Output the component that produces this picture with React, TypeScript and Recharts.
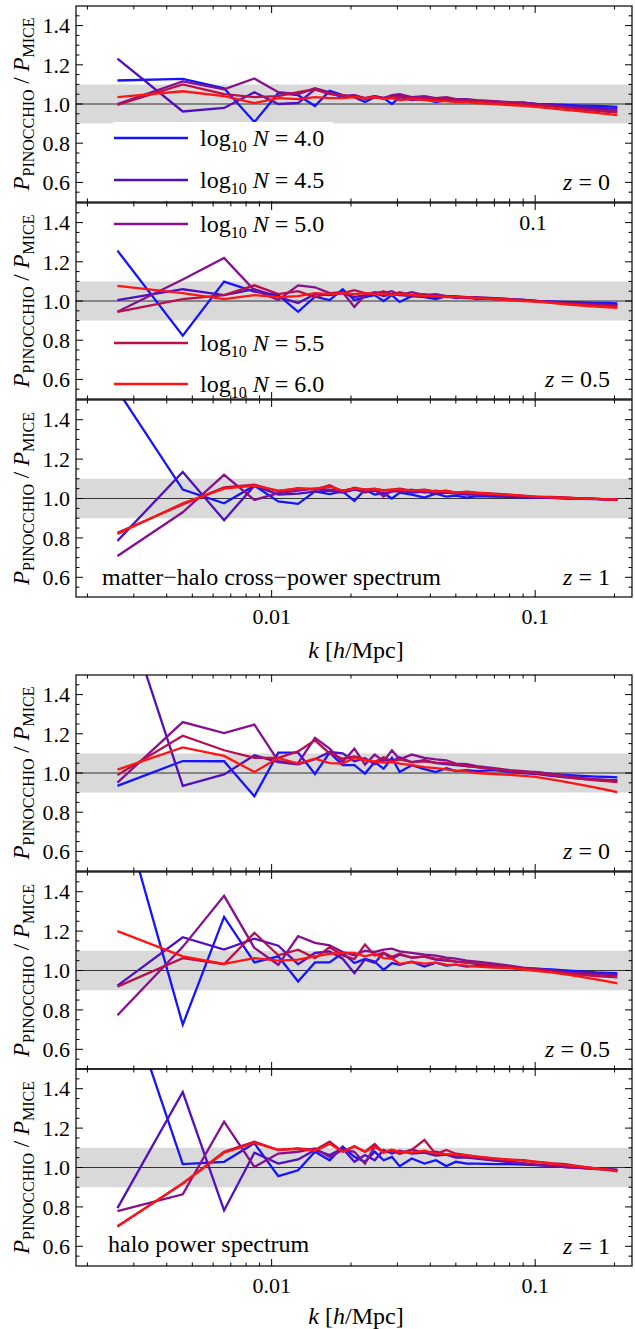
import React from 'react'
import { LineChart, Line, XAxis, YAxis, ReferenceArea, ReferenceLine } from 'recharts'

// k bins [h/Mpc]
const kBins = [
  0.0026, 0.0046, 0.0066, 0.0086, 0.0106, 0.0126, 0.0146, 0.0166, 0.0186, 0.0206,
  0.0226, 0.0246, 0.0266, 0.0286, 0.0306, 0.034, 0.038, 0.042, 0.046, 0.05,
  0.055, 0.06, 0.07, 0.08, 0.09, 0.1, 0.115, 0.13, 0.15, 0.17,
  0.19, 0.205,
]

// matter-halo cross-power, z = 0
const cz0_40 = [1.12, 1.128, 1.08, 0.908, 1.056, 1.045, 0.99, 1.067, 1.045, 1.035, 1.01, 1.035, 1.03, 1.0, 1.035, 1.02, 1.025, 1.01, 1.02, 1.015, 1.02, 1.01, 1.015, 1.005, 1.008, 1.0, 0.998, 0.995, 0.992, 0.99, 0.988, 0.985]
const cz0_45 = [1.232, 0.962, 0.98, 1.06, 1.0, 1.005, 1.075, 1.055, 1.035, 1.045, 1.03, 1.04, 1.03, 1.04, 1.045, 1.03, 1.035, 1.02, 1.03, 1.02, 1.02, 1.015, 1.01, 1.005, 1.005, 1.0, 0.995, 0.99, 0.985, 0.98, 0.978, 0.975]
const cz0_50 = [1.0, 1.115, 1.075, 1.13, 1.06, 1.05, 1.08, 1.06, 1.04, 1.045, 1.025, 1.04, 1.03, 1.045, 1.05, 1.035, 1.04, 1.03, 1.035, 1.025, 1.025, 1.02, 1.015, 1.01, 1.005, 1.0, 0.992, 0.985, 0.978, 0.972, 0.968, 0.965]
const cz0_55 = [0.995, 1.1, 1.05, 1.035, 1.04, 1.06, 1.075, 1.05, 1.045, 1.035, 1.03, 1.035, 1.03, 1.035, 1.035, 1.03, 1.03, 1.025, 1.03, 1.02, 1.02, 1.015, 1.012, 1.005, 1.0, 0.995, 0.988, 0.98, 0.972, 0.965, 0.96, 0.957]
const cz0_60 = [1.035, 1.065, 1.04, 1.005, 1.03, 1.025, 1.035, 1.03, 1.03, 1.035, 1.03, 1.035, 1.025, 1.03, 1.02, 1.025, 1.02, 1.015, 1.015, 1.01, 1.01, 1.005, 1.0, 0.995, 0.99, 0.985, 0.978, 0.97, 0.962, 0.955, 0.948, 0.943]

// matter-halo cross-power, z = 0.5
const cz05_40 = [1.257, 0.823, 1.099, 1.048, 1.03, 0.945, 1.022, 1.005, 1.06, 1.005, 1.02, 1.03, 1.0, 1.03, 0.995, 1.025, 1.02, 1.01, 1.025, 1.015, 1.02, 1.01, 1.015, 1.01, 1.005, 1.0, 0.998, 0.995, 0.993, 0.99, 0.99, 0.988]
const cz05_45 = [1.005, 1.06, 1.03, 1.06, 1.02, 0.99, 1.035, 1.03, 1.04, 1.02, 1.03, 1.04, 1.025, 1.035, 1.03, 1.025, 1.03, 1.02, 1.025, 1.02, 1.015, 1.015, 1.01, 1.005, 1.005, 1.0, 0.995, 0.99, 0.988, 0.985, 0.982, 0.98]
const cz05_50 = [0.945, 1.11, 1.22, 1.055, 1.005, 1.08, 1.07, 1.04, 1.045, 0.97, 1.03, 1.045, 1.04, 1.05, 1.03, 1.045, 1.03, 1.035, 1.025, 1.025, 1.02, 1.02, 1.015, 1.01, 1.005, 1.0, 0.995, 0.99, 0.985, 0.982, 0.98, 0.978]
const cz05_55 = [0.945, 1.01, 1.03, 1.08, 1.035, 1.05, 1.02, 1.04, 1.04, 1.055, 1.04, 1.035, 1.05, 1.03, 1.045, 1.03, 1.035, 1.025, 1.025, 1.02, 1.02, 1.015, 1.01, 1.008, 1.003, 1.0, 0.993, 0.988, 0.982, 0.978, 0.975, 0.972]
const cz05_60 = [1.077, 1.04, 1.01, 1.03, 1.02, 1.025, 1.04, 1.035, 1.04, 1.035, 1.04, 1.035, 1.035, 1.03, 1.035, 1.03, 1.025, 1.025, 1.02, 1.02, 1.018, 1.015, 1.01, 1.005, 1.0, 0.997, 0.99, 0.983, 0.977, 0.972, 0.968, 0.965]

// matter-halo cross-power, z = 1
const cz1_40 = [1.55, 1.045, 0.976, 1.065, 0.985, 0.973, 1.036, 1.022, 1.036, 0.988, 1.045, 1.02, 1.027, 1.0, 1.03, 1.02, 1.005, 1.025, 1.01, 1.015, 1.005, 1.012, 1.01, 1.008, 1.005, 1.005, 1.003, 1.0, 0.998, 0.997, 0.995, 0.993]
const cz1_45 = [0.785, 1.135, 0.89, 1.065, 1.02, 1.025, 1.035, 1.04, 1.03, 1.045, 1.035, 1.04, 1.025, 1.035, 1.04, 1.03, 1.035, 1.025, 1.03, 1.025, 1.02, 1.02, 1.015, 1.012, 1.01, 1.005, 1.005, 1.002, 1.0, 0.998, 0.996, 0.995]
const cz1_50 = [0.708, 0.93, 1.12, 0.993, 1.027, 1.04, 1.05, 1.045, 1.04, 1.05, 1.03, 1.045, 1.01, 1.04, 1.035, 1.045, 1.03, 1.04, 1.03, 1.03, 1.025, 1.02, 1.02, 1.015, 1.01, 1.007, 1.005, 1.003, 1.0, 0.998, 0.996, 0.995]
const cz1_55 = [0.826, 0.97, 1.056, 1.07, 1.036, 1.053, 1.045, 1.067, 1.035, 1.055, 1.045, 1.05, 1.04, 1.045, 1.05, 1.04, 1.045, 1.035, 1.04, 1.03, 1.035, 1.03, 1.025, 1.02, 1.015, 1.01, 1.008, 1.005, 1.0, 0.998, 0.996, 0.994]
const cz1_60 = [0.82, 0.975, 1.05, 1.065, 1.04, 1.05, 1.05, 1.06, 1.04, 1.05, 1.045, 1.048, 1.042, 1.045, 1.045, 1.04, 1.042, 1.035, 1.038, 1.03, 1.032, 1.028, 1.022, 1.018, 1.013, 1.01, 1.006, 1.003, 1.0, 0.998, 0.996, 0.994]

// halo power, z = 0
const hz0_40 = [0.934, 1.061, 1.06, 0.881, 1.104, 1.104, 0.995, 1.104, 1.04, 1.04, 0.997, 1.056, 1.022, 1.077, 1.005, 1.04, 1.02, 1.005, 1.025, 1.01, 1.015, 1.01, 1.015, 1.005, 1.0, 1.005, 0.995, 0.99, 0.985, 0.982, 0.98, 0.978]
const hz0_45 = [1.95, 0.934, 0.993, 1.09, 1.056, 1.044, 1.07, 1.107, 1.1, 1.06, 1.075, 1.045, 1.07, 1.06, 1.08, 1.055, 1.065, 1.05, 1.045, 1.04, 1.035, 1.03, 1.02, 1.01, 1.0, 0.995, 0.985, 0.978, 0.97, 0.965, 0.962, 0.96]
const hz0_50 = [0.951, 1.26, 1.204, 1.247, 1.06, 1.05, 1.179, 1.124, 1.056, 1.124, 1.043, 1.094, 1.06, 1.116, 1.07, 1.094, 1.077, 1.07, 1.065, 1.048, 1.045, 1.035, 1.025, 1.015, 1.01, 1.005, 0.995, 0.985, 0.975, 0.968, 0.965, 0.963]
const hz0_55 = [0.99, 1.19, 1.116, 1.077, 1.077, 1.11, 1.167, 1.1, 1.073, 1.085, 1.07, 1.056, 1.08, 1.06, 1.07, 1.056, 1.06, 1.053, 1.05, 1.045, 1.035, 1.03, 1.02, 1.01, 1.005, 1.0, 0.99, 0.98, 0.97, 0.963, 0.958, 0.954]
const hz0_60 = [1.017, 1.131, 1.087, 1.005, 1.077, 1.048, 1.073, 1.05, 1.048, 1.077, 1.065, 1.06, 1.053, 1.056, 1.048, 1.04, 1.03, 1.025, 1.019, 1.012, 1.008, 1.0, 0.995, 0.99, 0.985, 0.98, 0.968, 0.955, 0.94, 0.925, 0.912, 0.903]

// halo power, z = 0.5
const hz05_40 = [1.9, 0.725, 1.272, 1.041, 1.072, 0.944, 1.041, 1.041, 1.089, 1.038, 1.058, 1.046, 1.003, 1.038, 1.029, 1.045, 1.02, 1.04, 1.025, 1.03, 1.02, 1.025, 1.02, 1.015, 1.012, 1.01, 1.005, 1.0, 0.995, 0.99, 0.988, 0.986]
const hz05_45 = [0.923, 1.169, 1.106, 1.162, 1.126, 1.032, 1.089, 1.097, 1.06, 0.986, 1.055, 1.038, 1.089, 1.06, 1.08, 1.065, 1.07, 1.055, 1.05, 1.045, 1.04, 1.035, 1.025, 1.02, 1.01, 1.005, 0.998, 0.993, 0.988, 0.985, 0.982, 0.98]
const hz05_50 = [0.773, 1.12, 1.379, 1.115, 1.029, 1.174, 1.14, 1.128, 1.094, 1.077, 1.1, 1.094, 1.106, 1.111, 1.097, 1.09, 1.08, 1.075, 1.065, 1.06, 1.05, 1.045, 1.035, 1.025, 1.015, 1.01, 1.0, 0.99, 0.985, 0.98, 0.977, 0.975]
const hz05_55 = [0.918, 1.063, 1.032, 1.191, 1.077, 1.106, 1.063, 1.118, 1.077, 1.058, 1.132, 1.077, 1.09, 1.07, 1.085, 1.065, 1.07, 1.06, 1.055, 1.045, 1.04, 1.035, 1.025, 1.02, 1.01, 1.005, 0.995, 0.985, 0.978, 0.972, 0.968, 0.965]
const hz05_60 = [1.2, 1.072, 1.034, 1.063, 1.05, 1.055, 1.072, 1.085, 1.089, 1.089, 1.072, 1.084, 1.063, 1.06, 1.034, 1.043, 1.035, 1.04, 1.03, 1.029, 1.025, 1.02, 1.015, 1.012, 1.005, 0.998, 0.99, 0.98, 0.968, 0.955, 0.943, 0.935]

// halo power, z = 1
const hz1_40 = [2.0, 1.017, 1.029, 1.123, 0.956, 0.986, 1.08, 1.037, 1.106, 1.054, 1.029, 1.08, 1.037, 1.054, 1.007, 1.046, 1.02, 1.037, 1.007, 1.029, 1.02, 1.02, 1.017, 1.017, 1.015, 1.012, 1.008, 1.003, 1.0, 0.995, 0.99, 0.986]
const hz1_45 = [0.794, 1.383, 0.782, 1.075, 1.02, 1.041, 1.089, 1.063, 1.097, 1.029, 1.063, 1.037, 1.089, 1.071, 1.085, 1.07, 1.075, 1.06, 1.065, 1.05, 1.05, 1.045, 1.035, 1.028, 1.02, 1.015, 1.008, 1.002, 0.998, 0.993, 0.99, 0.988]
const hz1_50 = [0.779, 0.864, 1.233, 1.003, 1.071, 1.08, 1.097, 1.054, 1.089, 1.08, 1.02, 1.106, 1.08, 1.085, 1.07, 1.09, 1.075, 1.08, 1.065, 1.06, 1.055, 1.048, 1.04, 1.03, 1.022, 1.015, 1.008, 1.002, 0.997, 0.992, 0.99, 0.988]
const hz1_55 = [0.702, 0.918, 1.08, 1.131, 1.089, 1.097, 1.089, 1.131, 1.08, 1.109, 1.08, 1.119, 1.075, 1.089, 1.07, 1.089, 1.14, 1.068, 1.089, 1.07, 1.063, 1.055, 1.046, 1.04, 1.037, 1.03, 1.022, 1.017, 1.005, 0.995, 0.988, 0.981]
const hz1_60 = [0.7, 0.92, 1.075, 1.125, 1.09, 1.095, 1.085, 1.12, 1.08, 1.105, 1.08, 1.105, 1.078, 1.09, 1.08, 1.075, 1.085, 1.07, 1.068, 1.065, 1.06, 1.055, 1.045, 1.04, 1.035, 1.028, 1.02, 1.012, 1.003, 0.995, 0.988, 0.982]

const seriesKeys = ['n40', 'n45', 'n50', 'n55', 'n60']
const seriesLabels = ['4.0', '4.5', '5.0', '5.5', '6.0']
const seriesColors = ['#1414ff', '#5010c0', '#86108e', '#b8104e', '#ff1414']

const xTicks = [
  0.002, 0.003, 0.004, 0.005, 0.006, 0.007, 0.008, 0.009,
  0.01, 0.02, 0.03, 0.04, 0.05, 0.06, 0.07, 0.08, 0.09,
  0.1, 0.2,
]
const xTickLabels = ['0.01', '0.1']
const yTicks = [
  0.55, 0.6, 0.65, 0.7, 0.75, 0.8, 0.85, 0.9, 0.95, 1.0,
  1.05, 1.1, 1.15, 1.2, 1.25, 1.3, 1.35, 1.4, 1.45,
]
const yTickLabels = [0.6, 0.8, 1.0, 1.2, 1.4]

const FONT = '"Liberation Serif", "DejaVu Serif", "Times New Roman", serif'
const W = 635
const PLOT_L = 76
const PLOT_R = 632
const K_MIN = 0.00181
const K_MAX = 0.233

const panels = [
  { top: 6, h: 196, series: [cz0_40, cz0_45, cz0_50, cz0_55, cz0_60], z: '0', showX: false },
  { top: 203, h: 196, series: [cz05_40, cz05_45, cz05_50, cz05_55, cz05_60], z: '0.5', showX: false },
  { top: 400, h: 197, series: [cz1_40, cz1_45, cz1_50, cz1_55, cz1_60], z: '1', showX: true },
  { top: 675, h: 196, series: [hz0_40, hz0_45, hz0_50, hz0_55, hz0_60], z: '0', showX: false },
  { top: 872, h: 197, series: [hz05_40, hz05_45, hz05_50, hz05_55, hz05_60], z: '0.5', showX: false },
  { top: 1069, h: 197, series: [hz1_40, hz1_45, hz1_50, hz1_55, hz1_60], z: '1', showX: true },
]

const legendY = [138, 180, 224, 343, 384]

function XTick(props: any) {
  const { x, y, payload, plotH, showX } = props
  const v = payload.value
  const label = xTickLabels.find((t) => Math.abs(Number(t) - v) < 1e-9)
  const len = label ? 7 : 3.5
  const top = y - plotH
  return (
    <g>
      <line x1={x} x2={x} y1={y} y2={y - len} stroke="#000" strokeWidth={1} />
      <line x1={x} x2={x} y1={top} y2={top + len} stroke="#000" strokeWidth={1} />
      {showX && label && (
        <text x={x} y={y + 27} textAnchor="middle" fontSize={22} fontFamily={FONT} fill="#000">
          {label}
        </text>
      )}
    </g>
  )
}

function YTick(props: any) {
  const { x, y, payload } = props
  const v = payload.value
  const major = yTickLabels.some((t) => Math.abs(t - v) < 1e-9)
  const len = major ? 7 : 3.5
  return (
    <g>
      <line x1={x} x2={x + len} y1={y} y2={y} stroke="#000" strokeWidth={1} />
      <line x1={PLOT_R - len} x2={PLOT_R} y1={y} y2={y} stroke="#000" strokeWidth={1} />
      {major && (
        <text x={x - 6} y={y} dy="0.35em" textAnchor="end" fontSize={22} fontFamily={FONT} fill="#000">
          {v.toFixed(1)}
        </text>
      )}
    </g>
  )
}

function Panel({ top, h, series, showX }: { top: number; h: number; series: number[][]; showX: boolean }) {
  const rows = kBins.map((k, i) => {
    const row: Record<string, number> = { k }
    seriesKeys.forEach((key, j) => {
      row[key] = series[j][i]
    })
    return row
  })
  const xh = showX ? 40 : 2
  return (
    <div style={{ position: 'absolute', left: 0, top: top - 2 }}>
      <LineChart width={W} height={h + 2 + xh} data={rows} margin={{ top: 2, right: W - PLOT_R, bottom: 0, left: 0 }}>
        <XAxis
          dataKey="k"
          type="number"
          scale="log"
          domain={[K_MIN, K_MAX]}
          allowDataOverflow
          ticks={xTicks}
          interval={0}
          tickSize={0}
          tickMargin={0}
          tickLine={false}
          axisLine={false}
          height={xh}
          tick={(p: any) => <XTick {...p} plotH={h} showX={showX} />}
        />
        <YAxis
          type="number"
          domain={[0.5, 1.5]}
          allowDataOverflow
          ticks={yTicks}
          interval={0}
          tickSize={0}
          tickMargin={0}
          tickLine={false}
          axisLine={false}
          width={PLOT_L}
          tick={(p: any) => <YTick {...p} />}
        />
        <ReferenceArea y1={0.9} y2={1.1} fill="#d9d9d9" fillOpacity={1} stroke="none" />
        <ReferenceLine y={1} stroke="#333" strokeWidth={1.2} />
        {seriesKeys.map((key, j) => (
          <Line
            key={key}
            type="linear"
            dataKey={key}
            stroke={seriesColors[j]}
            strokeWidth={2.3}
            dot={false}
            isAnimationActive={false}
          />
        ))}
      </LineChart>
    </div>
  )
}

function YLabel({ cy }: { cy: number }) {
  return (
    <text transform={`translate(29, ${cy}) rotate(-90)`} textAnchor="middle" fontSize={23} fontFamily={FONT} fill="#000">
      <tspan fontStyle="italic">P</tspan>
      <tspan fontSize={16} dy={5}>PINOCCHIO</tspan>
      <tspan dy={-5}>{' / '}</tspan>
      <tspan fontStyle="italic">P</tspan>
      <tspan fontSize={16} dy={5}>MICE</tspan>
    </text>
  )
}

function XTitle({ y }: { y: number }) {
  return (
    <text x={356} y={y} textAnchor="middle" fontSize={24} fontFamily={FONT} fill="#000">
      <tspan fontStyle="italic">k</tspan>
      <tspan>{' ['}</tspan>
      <tspan fontStyle="italic">h</tspan>
      <tspan>/Mpc]</tspan>
    </text>
  )
}

export default function App() {
  return (
    <div style={{ position: 'absolute', left: 0, top: 0, width: W, height: 1329, background: '#fff', overflow: 'hidden' }}>
      {panels.map((p, i) => (
        <Panel key={i} top={p.top} h={p.h} series={p.series} showX={p.showX} />
      ))}
      <svg width={W} height={1329} style={{ position: 'absolute', left: 0, top: 0, pointerEvents: 'none' }}>
        {/* legend background in the top panel */}
        <rect x={113} y={122} width={220} height={79} fill="#fff" />
        {panels.map((p, i) => (
          <rect key={'f' + i} x={PLOT_L} y={p.top} width={PLOT_R - PLOT_L} height={p.h} fill="none" stroke="#000" strokeWidth={1.2} />
        ))}
        {panels.map((p, i) => (
          <YLabel key={'y' + i} cy={p.top + p.h / 2} />
        ))}
        {panels.map((p, i) => (
          <text key={'z' + i} x={610} y={p.top + p.h - 12} textAnchor="end" fontSize={24} fontFamily={FONT} fill="#000">
            <tspan fontStyle="italic">z</tspan>
            <tspan>{' = ' + p.z}</tspan>
          </text>
        ))}
        <text x={533} y={230} textAnchor="middle" fontSize={22} fontFamily={FONT} fill="#000">0.1</text>
        <text x={102} y={585} fontSize={24} fontFamily={FONT} fill="#000">matter−halo cross−power spectrum</text>
        <text x={108} y={1252} fontSize={24} fontFamily={FONT} fill="#000">halo power spectrum</text>
        <XTitle y={658} />
        <XTitle y={1324} />
        {seriesLabels.map((lab, j) => (
          <g key={'l' + j}>
            <line x1={114} x2={188} y1={legendY[j]} y2={legendY[j]} stroke={seriesColors[j]} strokeWidth={2.3} />
            <text x={200} y={legendY[j] + 8} fontSize={24} fontFamily={FONT} fill="#000">
              <tspan>log</tspan>
              <tspan fontSize={16} dy={6}>10</tspan>
              <tspan dy={-6}>{' '}</tspan>
              <tspan fontStyle="italic">N</tspan>
              <tspan>{' = ' + lab}</tspan>
            </text>
          </g>
        ))}
      </svg>
    </div>
  )
}
